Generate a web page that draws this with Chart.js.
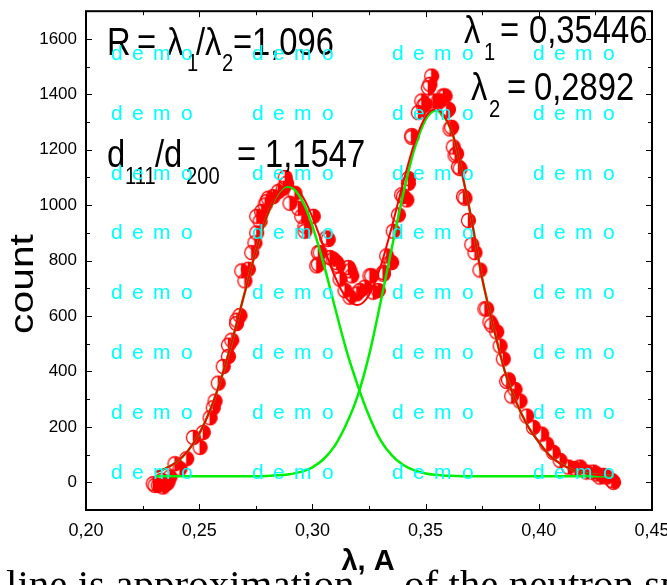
<!DOCTYPE html>
<html>
<head>
<meta charset="utf-8">
<script src="https://cdn.jsdelivr.net/npm/chart.js@4.4.1/dist/chart.umd.min.js"></script>
<style>
html, body { margin: 0; padding: 0; background: #fff; }
</style>
</head>
<body>
<canvas id="chart" width="667" height="585"></canvas>
<script>
// measured points (lambda, count)
const pointX = [0.2297,0.2305,0.2319,0.2334,0.2340,0.2356,0.2362,0.2371,0.2393,0.2415,0.2445,0.2474,0.2504,0.2518,0.2548,0.2562,0.2570,0.2584,0.2606,0.2629,0.2629,0.2644,0.2665,0.2666,0.2680,0.2688,0.2702,0.2717,0.2732,0.2746,0.2754,0.2754,0.2769,0.2776,0.2791,0.2798,0.2805,0.2827,0.2849,0.2871,0.2880,0.2886,0.2901,0.2923,0.2938,0.2953,0.2967,0.2967,0.3004,0.3019,0.3026,0.3026,0.3034,0.3063,0.3070,0.3078,0.3092,0.3107,0.3114,0.3122,0.3144,0.3159,0.3166,0.3166,0.3174,0.3196,0.3210,0.3232,0.3254,0.3262,0.3269,0.3291,0.3313,0.3313,0.3328,0.3343,0.3350,0.3357,0.3380,0.3394,0.3402,0.3417,0.3424,0.3424,0.3439,0.3439,0.3468,0.3483,0.3490,0.3498,0.3512,0.3519,0.3527,0.3534,0.3556,0.3564,0.3578,0.3586,0.3593,0.3601,0.3608,0.3615,0.3622,0.3630,0.3637,0.3645,0.3652,0.3667,0.3674,0.3689,0.3704,0.3718,0.3740,0.3762,0.3770,0.3784,0.3792,0.3814,0.3829,0.3843,0.3858,0.3866,0.3880,0.3895,0.3917,0.3947,0.3976,0.4013,0.4035,0.4064,0.4094,0.4131,0.4160,0.4182,0.4211,0.4241,0.4255,0.4270,0.4285,0.4300,0.4322,0.4330];
const pointY = [-5,-11,-11,7,-17,-5,1,19,67,49,85,162,126,180,233,269,293,358,418,454,495,513,573,585,602,763,727,769,829,864,900,960,942,977,1001,1013,1025,1031,1049,1061,1100,1079,1007,1043,989,960,924,906,960,781,829,787,829,882,876,811,805,793,781,733,692,775,668,763,745,680,692,704,745,745,686,692,757,751,817,793,793,906,965,1037,1031,1019,1079,1096,1245,1251,1334,1376,1358,1364,1424,1436,1466,1376,1376,1376,1394,1394,1340,1346,1275,1281,1210,1180,1186,1138,1132,1031,1025,945,858,829,766,626,626,579,567,543,492,445,364,370,311,335,293,239,198,174,138,108,79,55,50,55,37,37,30,19,25,19,7,0];

// fitted curves
const curveX = [0.231,0.235,0.240,0.245,0.250,0.255,0.260,0.265,0.270,0.275,0.280,0.285,0.289,0.293,0.297,0.300,0.305,0.310,0.315,0.320,0.325,0.330,0.335,0.340,0.345,0.350,0.3545,0.359,0.363,0.367,0.370,0.375,0.380,0.385,0.390,0.395,0.400,0.405,0.410,0.415,0.420,0.425,0.433];
const fitY   = [37,49,73,113,175,264,382,525,681,834,963,1047,1073,1060,1012,957,849,741,665,640,676,776,919,1078,1222,1319,1347,1311,1229,1080,960,735,560,400,290,205,145,95,65,45,33,27,24];
const peak1Y = [37,49,73,113,175,264,382,525,681,834,962,1044,1067,1048,991,925,787,630,477,350,240,153,98,63,43,32,27,24,23,22,22,22,22,22,22,22,22,22,22,22,22,22,22];
const peak2Y = [22,22,22,22,22,22,22,22,22,22,23,25,28,34,43,54,84,133,210,312,458,645,843,1037,1201,1309,1342,1309,1228,1080,960,735,560,400,290,205,145,95,65,45,33,27,24];

const xTicks = [0.20, 0.25, 0.30, 0.35, 0.40, 0.45];
const yTicks = [0, 200, 400, 600, 800, 1000, 1200, 1400, 1600];

const SANS = '"Liberation Sans", Arial, sans-serif';

function hasFont(name) {
    const g = document.createElement('canvas').getContext('2d');
    g.font = '40px monospace';
    const w0 = g.measureText('mmmiii0123,').width;
    g.font = '40px "' + name + '", monospace';
    return g.measureText('mmmiii0123,').width !== w0;
}
const NARROW = hasFont('Liberation Sans Narrow');
const LABEL = NARROW ? '"Liberation Sans Narrow", ' + SANS : SANS;
const SX = NARROW ? 1 : 0.84;

function halfDot(r) {
    const c = document.createElement('canvas');
    const d = Math.ceil(r * 2 + 3);
    c.width = c.height = d;
    const g = c.getContext('2d');
    const m = d / 2;
    g.fillStyle = '#ff0000';
    g.beginPath();
    g.arc(m, m, r, -Math.PI / 2, Math.PI / 2);
    g.closePath();
    g.fill();
    g.strokeStyle = '#ff0000';
    g.lineWidth = 1.3;
    g.beginPath();
    g.arc(m, m, r, 0, Math.PI * 2);
    g.stroke();
    g.beginPath();
    g.moveTo(m, m - r);
    g.lineTo(m, m + r);
    g.stroke();
    return c;
}

function txt(ctx, s, x, y, size) {
    ctx.save();
    ctx.translate(x, y);
    ctx.scale(SX, 1);
    ctx.font = size + 'px ' + LABEL;
    ctx.textBaseline = 'alphabetic';
    ctx.textAlign = 'left';
    ctx.fillText(s, 0, 0);
    ctx.restore();
}

const extras = {
    id: 'extras',
    afterDatasetsDraw(chart) {
        const { ctx, chartArea: a, scales: { x, y } } = chart;
        ctx.save();
        ctx.strokeStyle = '#000';
        ctx.lineWidth = 1;
        ctx.beginPath();
        for (let i = 0; i <= 10; i++) {
            const v = 0.20 + i * 0.025;
            const px = Math.round(x.getPixelForValue(v)) + 0.5;
            const len = i % 2 === 0 ? 6 : 4;
            ctx.moveTo(px, a.bottom); ctx.lineTo(px, a.bottom - len);
            ctx.moveTo(px, a.top); ctx.lineTo(px, a.top + len);
        }
        for (let v = 0; v <= 1600; v += 100) {
            const py = Math.round(y.getPixelForValue(v)) + 0.5;
            const len = v % 200 === 0 ? 6 : 4;
            ctx.moveTo(a.left, py); ctx.lineTo(a.left + len, py);
            ctx.moveTo(a.right, py); ctx.lineTo(a.right - len, py);
        }
        ctx.stroke();
        ctx.lineWidth = 2;
        ctx.strokeRect(a.left, a.top, a.right - a.left, a.bottom - a.top);
        ctx.restore();
    },
    afterDraw(chart) {
        const ctx = chart.ctx;
        ctx.save();
        ctx.fillStyle = '#000';

        // R = l1/l2
        txt(ctx, 'R', 107, 55, 39);
        txt(ctx, '=', 137, 55, 39);
        txt(ctx, 'λ', 167, 55, 39);
        txt(ctx, '1', 187, 71, 24);
        txt(ctx, '/λ', 196, 55, 39);
        txt(ctx, '2', 222, 71, 24);
        txt(ctx, '=', 233, 55, 39);
        txt(ctx, '1,096', 252, 55, 39);

        // d111/d200
        txt(ctx, 'd', 107, 167, 39);
        txt(ctx, '111', 125, 184, 24);
        txt(ctx, '/d', 155, 167, 39);
        txt(ctx, '200', 186, 184, 24);
        txt(ctx, '=', 237, 167, 39);
        txt(ctx, '1,1547', 265, 167, 39);

        // lambda values
        txt(ctx, 'λ', 464, 43, 39);
        txt(ctx, '1', 484, 60, 24);
        txt(ctx, '=', 500, 43, 39);
        txt(ctx, '0,35446', 529, 43, 39);
        txt(ctx, 'λ', 471, 100, 39);
        txt(ctx, '2', 489, 117, 24);
        txt(ctx, '=', 507, 100, 39);
        txt(ctx, '0,2892', 534, 100, 39);

        // cut-off caption line under the figure
        ctx.save();
        ctx.font = '41px "Liberation Serif", "Times New Roman", serif';
        ctx.fillText('line is approximation', 6, 598);
        ctx.fillText('of the neutron spectrum', 404, 598);
        ctx.restore();

        // axis titles
        ctx.save();
        ctx.font = 'bold 29px ' + SANS;
        ctx.textAlign = 'center';
        ctx.fillText('λ, A', 368, 570);
        ctx.restore();

        ctx.save();
        ctx.translate(33, 284);
        ctx.rotate(-Math.PI / 2);
        ctx.scale(1.2, 1);
        ctx.font = '34px ' + SANS;
        ctx.textAlign = 'center';
        ctx.fillText('count', 0, 0);
        ctx.restore();

        // demo watermark
        ctx.fillStyle = '#00ffff';
        ctx.font = '21px ' + SANS;
        const cols = [111, 252, 392, 533];
        const letters = [['d', 0], ['e', 21], ['m', 42], ['o', 70]];
        for (let r = 0; r < 8; r++) {
            const by = 60 + r * 59.8;
            cols.forEach(cx => letters.forEach(([ch, dx]) => ctx.fillText(ch, cx + dx, by)));
        }
        ctx.restore();
    }
};

const pts = pointX.map((v, i) => ({ x: v, y: pointY[i] }));
const line = arr => curveX.map((v, i) => ({ x: v, y: arr[i] }));

new Chart(document.getElementById('chart').getContext('2d'), {
    type: 'scatter',
    data: {
        datasets: [
            {
                label: 'fit',
                data: line(fitY),
                showLine: true,
                borderColor: '#ff0000',
                borderWidth: 2,
                pointRadius: 0,
                cubicInterpolationMode: 'monotone',
                order: 0
            },
            {
                label: 'peak 1',
                data: line(peak1Y),
                showLine: true,
                borderColor: '#00ee00',
                borderWidth: 2.5,
                pointRadius: 0,
                cubicInterpolationMode: 'monotone',
                order: 1
            },
            {
                label: 'peak 2',
                data: line(peak2Y),
                showLine: true,
                borderColor: '#00ee00',
                borderWidth: 2.5,
                pointRadius: 0,
                cubicInterpolationMode: 'monotone',
                order: 1
            },
            {
                label: 'count',
                data: pts,
                pointStyle: halfDot(7),
                pointRadius: 7,
                showLine: false,
                order: 2
            }
        ]
    },
    options: {
        responsive: false,
        animation: false,
        events: [],
        layout: { padding: { top: 6, right: 15, left: 0, bottom: 0 } },
        plugins: { legend: { display: false }, tooltip: { enabled: false } },
        scales: {
            x: {
                type: 'linear',
                min: 0.20,
                max: 0.45,
                afterBuildTicks: s => { s.ticks = xTicks.map(v => ({ value: v })); },
                afterFit: s => { s.height = 75; s.paddingLeft = 0; s.paddingRight = 0; },
                grid: { display: false },
                border: { display: false },
                ticks: {
                    autoSkip: false,
                    maxRotation: 0,
                    padding: 2,
                    color: '#000',
                    font: { family: LABEL, size: NARROW ? 20 : 18 },
                    callback: v => v.toFixed(2).replace('.', ',')
                }
            },
            y: {
                min: -100,
                max: 1700,
                afterBuildTicks: s => { s.ticks = yTicks.map(v => ({ value: v })); },
                afterFit: s => { s.width = 86; },
                grid: { display: false },
                border: { display: false },
                ticks: {
                    padding: 1,
                    color: '#000',
                    font: { family: LABEL, size: NARROW ? 19 : 17 },
                    callback: v => String(v)
                }
            }
        }
    },
    plugins: [extras]
});
</script>
</body>
</html>
